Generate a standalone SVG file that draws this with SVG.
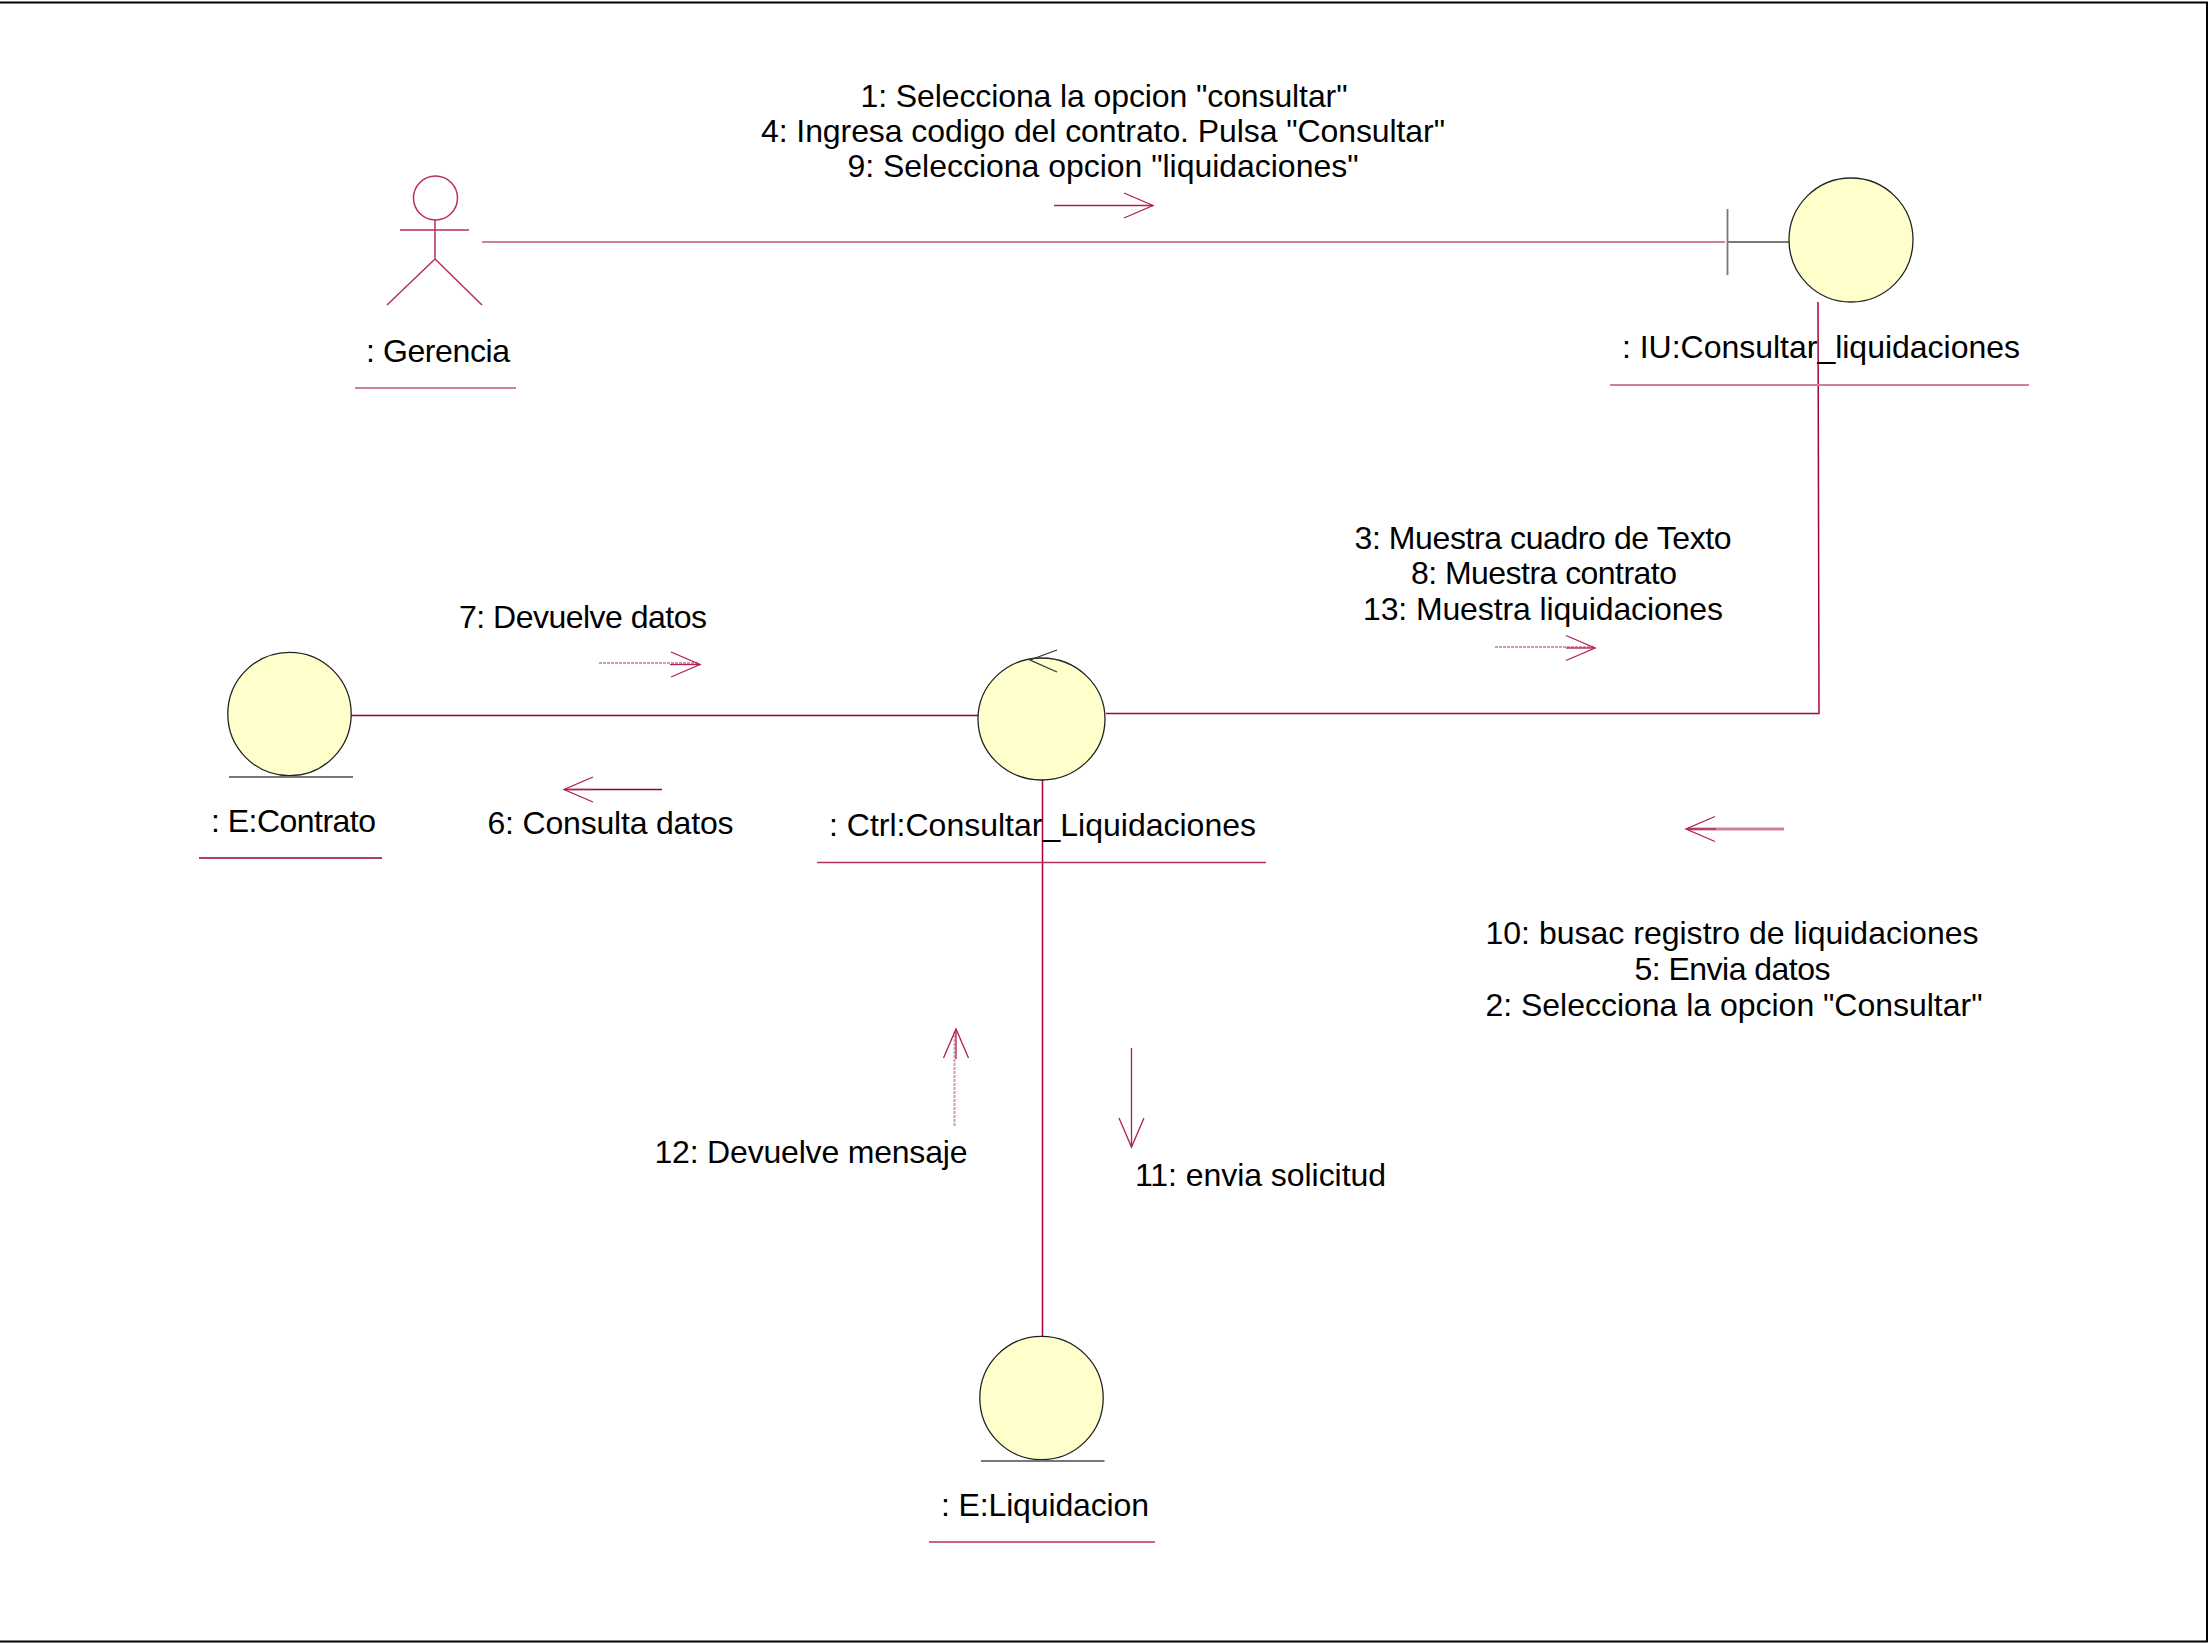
<svg xmlns="http://www.w3.org/2000/svg" width="2208" height="1643" viewBox="0 0 2208 1643">
<defs>
<marker id="open" viewBox="0 0 32 28" refX="30" refY="14" markerWidth="32" markerHeight="28" markerUnits="userSpaceOnUse" orient="auto"><path d="M1 1.500L30 14L1 26.500" fill="none" stroke="#b01e58" stroke-width="1.300"/></marker>
</defs>
<style>
text{font-family:"Liberation Sans",Arial,sans-serif;font-size:32px;fill:#000;text-anchor:middle}
.l{fill:none;stroke:#a8003f;stroke-width:1.500}
.d{fill:none;stroke:#960034;stroke-width:1.500}
.u{fill:none;stroke:#cf7f9c;stroke-width:2}
.m{fill:none;stroke:#b8305f;stroke-width:1.500}
.c{fill:#ffffcc;stroke:#222;stroke-width:1.300}
.k{fill:none;stroke:#333;stroke-width:1.300}
.g{fill:none;stroke:#777;stroke-width:1.800}
.b{fill:none;stroke:#000;stroke-width:2}
.a{fill:none;stroke:#b01e58;stroke-width:1.300;marker-end:url(#open)}
.p{fill:none;stroke:#dc98b2;stroke-width:2;stroke-dasharray:3 1}
.t{fill:none;stroke:#cf7f9c;stroke-width:3}
</style>
<path class="b" d="M0 2.500H2207V1641.500H0"/>
<g id="connectors">
<path class="u" d="M482 242H1725"/>
<path class="l" d="M1818 302L1819 713.500H1106"/>
<path class="d" d="M351 715.500H978"/>
<path class="l" d="M1042.500 780V1337"/>
</g>
<g id="messages">
<text x="1104" y="107" textLength="487">1: Selecciona la opcion "consultar"</text>
<text x="1103" y="142" textLength="684">4: Ingresa codigo del contrato. Pulsa "Consultar"</text>
<text x="1103" y="177" textLength="511">9: Selecciona opcion "liquidaciones"</text>
<path class="a" d="M1054 205.500H1153"/>
<text x="1543" y="549" textLength="377">3: Muestra cuadro de Texto</text>
<text x="1544" y="584" textLength="266">8: Muestra contrato</text>
<text x="1543" y="620" textLength="360">13: Muestra liquidaciones</text>
<path class="p" d="M1495 647H1594"/>
<path class="a" d="M1566 648H1595"/>
<text x="583" y="628" textLength="248">7: Devuelve datos</text>
<path class="p" d="M599 663H699"/>
<path class="a" d="M670 664.500H700"/>
<path class="d" d="M662 789.500H566"/>
<path class="a" d="M594 789.500H564"/>
<text x="610.500" y="834" textLength="246">6: Consulta datos</text>
<path class="t" d="M1784 829H1688"/>
<path class="a" d="M1716 829H1686"/>
<text x="1732" y="944" textLength="493">10: busac registro de liquidaciones</text>
<text x="1732.500" y="980" textLength="196">5: Envia datos</text>
<text x="1734" y="1016" textLength="497">2: Selecciona la opcion "Consultar"</text>
<path class="p" d="M954.500 1126V1032"/>
<path class="a" d="M956 1059V1029"/>
<text x="811" y="1163" textLength="313">12: Devuelve mensaje</text>
<path class="a" d="M1131.500 1048V1147"/>
<text x="1260.500" y="1186" textLength="251">11: envia solicitud</text>
</g>
<g id="gerencia">
<circle cx="435.500" cy="198" r="22" class="m"/>
<path class="m" d="M435 220V259M400 230H469M387 305L435 259L482 305"/>
<text x="438" y="362" textLength="144">: Gerencia</text>
<path class="u" d="M355 388H516"/>
</g>
<g id="iu-consultar">
<path class="g" d="M1727.500 209V275M1728 242H1789"/>
<circle cx="1851" cy="240" r="62" class="c"/>
<text x="1821" y="358" textLength="398">: IU:Consultar_liquidaciones</text>
<path class="u" d="M1610 385H2029"/>
</g>
<g id="ctrl-consultar">
<ellipse cx="1041.500" cy="719" rx="63.500" ry="61" class="c"/>
<path class="k" d="M1057 650L1030 660L1057 672"/>
<text x="1042.500" y="836" textLength="427">: Ctrl:Consultar_Liquidaciones</text>
<path class="m" d="M817 862.500H1266"/>
</g>
<g id="e-contrato">
<circle cx="289.500" cy="714" r="61.700" class="c"/>
<path class="g" d="M229 777H353"/>
<text x="293.500" y="832" textLength="165">: E:Contrato</text>
<path class="d" d="M199 858H382"/>
</g>
<g id="e-liquidacion">
<circle cx="1041.500" cy="1398" r="61.700" class="c"/>
<path class="g" d="M981 1461H1104.500"/>
<text x="1045" y="1516" textLength="208">: E:Liquidacion</text>
<path class="m" d="M929 1542H1155"/>
</g>
</svg>
